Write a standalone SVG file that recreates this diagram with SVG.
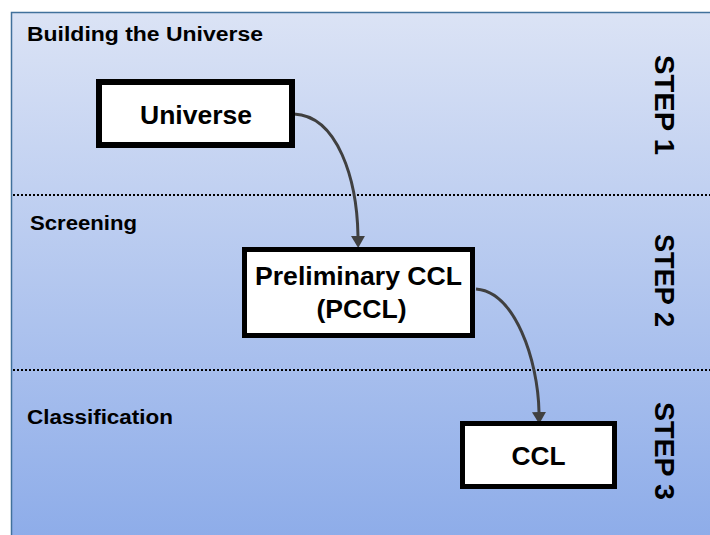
<svg xmlns="http://www.w3.org/2000/svg" width="710" height="535" viewBox="0 0 710 535">
  <defs>
    <linearGradient id="bg" x1="0" y1="0" x2="0" y2="1">
      <stop offset="0" stop-color="#dbe3f5"/>
      <stop offset="1" stop-color="#8dace9"/>
    </linearGradient>
    <marker id="arrow" markerUnits="userSpaceOnUse" viewBox="0 0 12 14" refX="0" refY="7" markerWidth="12" markerHeight="14" orient="auto">
      <path d="M0,0 L12,7 L0,14 z" fill="#404040"/>
    </marker>
    <style>
      text { font-family: "Liberation Sans", Arial, sans-serif; font-weight: bold; fill: #000; }
      .lbl { font-size: 20px; }
      .node rect { fill: #fff; stroke: #000; }
      .ntxt { font-size: 25px; text-anchor: middle; }
      .step { font-size: 28px; }
      .div { stroke: #000; stroke-width: 2; stroke-dasharray: 2 2; fill: none; }
      .conn { stroke: #404040; stroke-width: 3; fill: none; marker-end: url(#arrow); }
    </style>
  </defs>

  <rect x="11.5" y="12.5" width="710" height="530" fill="url(#bg)" stroke="#41719c" stroke-width="1.5"/>

  <g id="dividers">
    <line class="div" x1="13" y1="195" x2="710" y2="195"/>
    <line class="div" x1="13" y1="370" x2="710" y2="370"/>
  </g>

  <g id="labels">
    <text class="lbl" x="27" y="41" textLength="236" lengthAdjust="spacingAndGlyphs">Building the Universe</text>
    <text class="lbl" x="30" y="229.5" textLength="107" lengthAdjust="spacingAndGlyphs">Screening</text>
    <text class="lbl" x="27" y="423.5" textLength="146" lengthAdjust="spacingAndGlyphs">Classification</text>
  </g>

  <g id="steps">
    <text class="step" transform="translate(655,55) rotate(90)" textLength="100" lengthAdjust="spacingAndGlyphs">STEP 1</text>
    <text class="step" transform="translate(655,234) rotate(90)" textLength="93" lengthAdjust="spacingAndGlyphs">STEP 2</text>
    <text class="step" transform="translate(655,402) rotate(90)" textLength="98" lengthAdjust="spacingAndGlyphs">STEP 3</text>
  </g>

  <g id="connectors">
    <path class="conn" d="M294,114 C338,116 357,180 358,236"/>
    <path class="conn" d="M476,289 C515,292 538,360 539,412"/>
  </g>

  <g id="node-universe" class="node">
    <rect x="99" y="82" width="193" height="63" stroke-width="6"/>
    <text class="ntxt" x="196" y="123.5" textLength="112" lengthAdjust="spacingAndGlyphs">Universe</text>
  </g>

  <g id="node-pccl" class="node">
    <rect x="244.5" y="249.5" width="228" height="86" stroke-width="5"/>
    <text class="ntxt" x="358.5" y="285" textLength="207" lengthAdjust="spacingAndGlyphs">Preliminary CCL</text>
    <text class="ntxt" x="361.5" y="318" textLength="90" lengthAdjust="spacingAndGlyphs">(PCCL)</text>
  </g>

  <g id="node-ccl" class="node">
    <rect x="462.5" y="423.5" width="152" height="63" stroke-width="5"/>
    <text class="ntxt" x="538.5" y="464.5" textLength="54" lengthAdjust="spacingAndGlyphs">CCL</text>
  </g>
</svg>
